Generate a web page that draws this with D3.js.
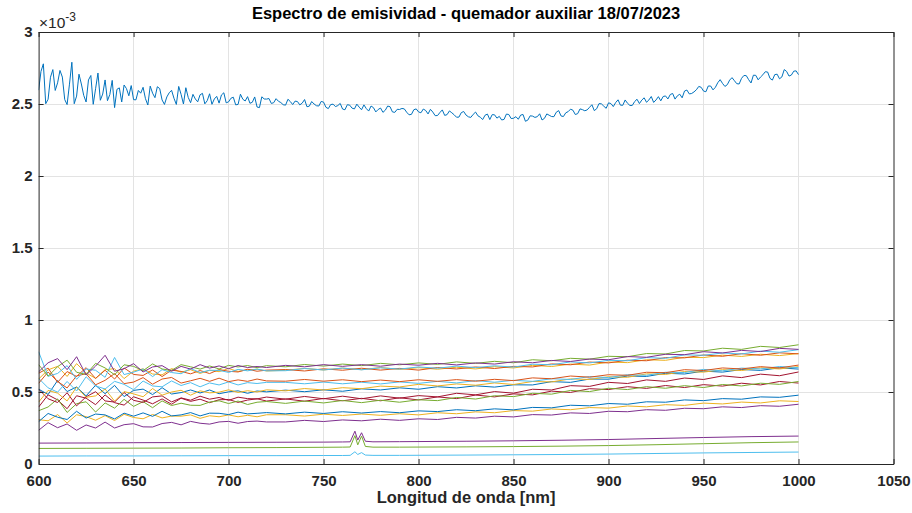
<!DOCTYPE html>
<html><head><meta charset="utf-8">
<script src="https://cdn.jsdelivr.net/npm/d3@7"></script>
<style>body{margin:0;background:#fff}svg{display:block}text{font-family:"Liberation Sans",Arial,Helvetica,sans-serif}</style>
</head><body><svg id="c" width="912" height="513"></svg>
<script>
// ---- DATA (emissivity values in units of 1e-6, i.e. 1000 = 1 x 10^-3) ----
const titleText = "Espectro de emisividad - quemador auxiliar 18/07/2023";
const xLabelText = "Longitud de onda [nm]";
const xTicks = [600,650,700,750,800,850,900,950,1000,1050];
const xTickLabels = ["600","650","700","750","800","850","900","950","1000","1050"];
const yTicks = [0,500,1000,1500,2000,2500,3000];
const yTickLabels = ["0","0.5","1","1.5","2","2.5","3"];

// wavelength grids (nm)
const wlMain = d3.range(600, 1000.01, 1.25);
const wlLower = [600,605,610,615,620,625,630,635,640,645,650,655,660,665,670,675,680,685,690,695,700,705,710,715,720,
  730,740,750,760,770,780,790,800,810,820,830,840,850,860,870,880,890,900,910,920,930,940,950,960,970,980,990,1000];
const wlSmooth = [600,625,650,675,700,725,750,760,764,766.5,768,770,772,776,790,825,850,875,900,925,950,975,1000];

// main (top) spectrum on wlMain
const mainSeries = [
  2596,2726,2779,2502,2533,2686,2739,2594,2647,2733,2687,2531,2496,2638,2790,2502,2555,2707,2639,2560,
  2514,2667,2698,2498,2606,2715,2526,2569,2667,2523,2566,2664,2475,2602,2612,2514,2632,2607,2557,2628,
  2530,2529,2594,2575,2616,2537,2493,2624,2575,2544,2620,2607,2528,2497,2549,2578,2595,2540,2497,2622,
  2567,2500,2613,2546,2509,2567,2535,2515,2564,2574,2501,2523,2571,2498,2535,2553,2506,2563,2578,2508,
  2515,2540,2547,2494,2497,2568,2533,2521,2551,2505,2512,2549,2479,2475,2550,2535,2534,2538,2504,2509,
  2537,2519,2510,2495,2492,2533,2517,2496,2520,2517,2494,2506,2531,2481,2485,2517,2500,2488,2486,2518,
  2513,2477,2468,2496,2499,2482,2489,2504,2465,2460,2495,2492,2471,2466,2499,2478,2460,2494,2468,2451,
  2486,2475,2445,2462,2472,2442,2457,2486,2481,2445,2442,2463,2462,2469,2466,2443,2425,2428,2460,2466,
  2445,2439,2465,2455,2431,2463,2444,2419,2420,2441,2459,2421,2426,2452,2439,2425,2408,2409,2440,2448,
  2423,2411,2407,2428,2444,2418,2408,2392,2422,2430,2392,2426,2425,2402,2414,2389,2393,2430,2427,2399,
  2401,2412,2394,2423,2427,2380,2388,2418,2416,2407,2412,2432,2389,2400,2431,2422,2413,2412,2443,2454,
  2417,2413,2439,2447,2464,2457,2427,2433,2466,2461,2453,2459,2477,2495,2454,2467,2503,2501,2485,2470,
  2508,2503,2482,2510,2529,2492,2491,2528,2505,2490,2490,2517,2533,2503,2527,2543,2512,2528,2552,2511,
  2528,2551,2522,2552,2556,2535,2566,2573,2534,2557,2568,2543,2590,2597,2570,2573,2584,2599,2622,2616,
  2590,2585,2625,2625,2598,2616,2648,2669,2643,2622,2634,2666,2683,2662,2641,2639,2678,2698,2697,2669,
  2646,2700,2699,2668,2687,2703,2724,2722,2678,2666,2704,2707,2675,2688,2739,2726,2694,2701,2728,2730,
  2704];

// lower spectra on wlLower
const sGreenTop = [690,610,676,721,637,622,699,667,620,689,678,648,695,660,650,690,675,659,681,660,685,674,684,669,683,
  675,691,680,694,683,699,689,702,692,709,699,713,703,724,717,734,728,748,745,767,764,788,785,804,796,817,809,828];
const sPurpleTop = [640,703,732,655,745,618,680,755,644,662,697,639,674,683,644,678,659,690,666,681,662,684,670,677,670,
  685,675,690,678,690,679,694,686,699,688,702,694,710,703,719,712,729,724,746,741,762,759,780,771,789,781,803,796];
const sCyanTop = [780,609,629,683,588,660,651,602,740,621,638,660,607,655,635,627,663,635,651,650,636,657,647,659,647,
  648,663,653,666,654,668,659,674,665,680,669,682,673,693,689,709,702,720,717,739,734,758,755,771,764,784,776,794];
const sOrangeTop = [630,666,567,642,608,669,594,651,590,667,622,615,653,607,652,643,626,649,628,656,644,639,658,644,652,
  656,646,661,651,665,652,664,652,670,660,674,663,678,674,695,689,708,702,721,717,739,737,757,748,766,755,772,765];
const sYellowTop = [590,654,678,608,697,632,595,655,662,593,645,661,625,619,663,637,655,629,651,641,663,643,654,658,646,
  651,664,653,666,655,670,657,669,658,672,660,676,667,685,677,694,687,708,704,724,720,741,739,756,747,762,753,767];
const sOrangeMid = [560,639,573,528,612,627,550,581,628,558,569,600,554,590,601,562,578,595,574,596,572,584,574,590,577,
  575,587,575,585,572,583,572,585,574,586,575,588,579,598,592,611,603,620,616,637,634,655,649,667,660,676,667,687];
const sCyanMid = [595,529,499,573,507,606,542,521,574,553,516,576,542,536,577,545,565,536,563,549,570,549,565,559,567,
  567,557,569,557,568,556,570,560,574,563,579,568,581,574,592,587,607,600,620,616,637,635,657,647,666,660,677,669];
const sYellowMid = [430,511,492,438,534,463,473,521,436,503,487,467,524,478,500,512,478,508,494,499,515,497,509,500,515,
  508,524,514,530,523,541,535,553,542,556,547,563,552,573,570,591,587,606,602,626,622,642,638,655,649,668,660,676];
const sBlueMid = [520,483,580,503,535,473,547,488,546,468,511,520,482,530,486,496,514,493,514,488,501,508,491,507,501,
  513,502,515,505,522,514,529,519,537,528,543,534,550,549,572,567,590,589,611,608,630,625,645,638,656,650,668,659];
const sRedA = [520,453,427,495,404,467,502,438,430,496,442,428,466,473,431,459,443,471,450,462,442,464,454,452,465,
  450,469,453,471,453,473,457,475,466,491,480,503,492,519,514,544,539,567,559,584,574,597,587,612,600,624,613,639];
const sRedB = [395,480,445,384,474,457,412,480,426,409,467,444,418,452,415,457,435,450,426,446,448,428,444,453,437,
  452,436,455,439,456,439,460,445,466,454,479,466,487,480,506,497,523,517,537,525,545,531,551,541,561,549,573,562];
const sGreenMid = [370,396,452,358,419,432,361,424,388,449,400,433,391,438,406,422,408,407,430,439,420,437,413,429,434,
  421,437,424,441,426,443,429,446,440,462,451,474,468,491,485,511,503,526,517,537,526,544,531,552,542,561,553,573];
const sBlueLow = [294,351,325,309,366,319,347,341,313,353,332,355,331,366,334,341,357,334,353,352,343,360,348,352,357,
  348,360,351,363,354,364,356,369,364,377,370,383,376,393,390,408,404,420,415,432,429,445,440,454,450,466,463,478];
const sYellowLow = [308,300,343,285,342,329,304,336,302,345,323,314,344,320,333,332,341,317,335,328,341,328,338,328,342,
  342,333,346,337,347,338,349,341,356,349,362,356,371,367,382,377,392,388,403,397,412,407,423,417,430,424,439,434];
const sPurpleLow = [234,287,252,278,234,271,250,291,250,273,280,258,257,281,289,272,296,283,277,292,296,283,295,298,292,
  292,303,295,306,300,311,303,314,309,324,319,332,327,343,340,355,351,366,363,377,373,387,384,397,392,405,401,415];

// smooth bottom spectra on wlSmooth (K doublet near 766/770 nm)
const sPurpleBase = [145,146,148,149,150,151,152,153,154,228,166,217,158,154,155,158,161,165,170,177,184,190,194];
const sGreenBase  = [108,109,110,111,113,114,116,117,118,197,133,194,122,117,117,119,121,124,128,134,141,148,153];
const sCyanBase   = [55,56,56,57,58,58,59,59,60,85,66,79,62,60,60,62,64,66,69,73,77,80,83];

const C = {blue:"#0072BD", orange:"#D95319", yellow:"#EDB120", purple:"#7E2F8E", green:"#77AC30", cyan:"#4DBEEE", red:"#A2142F"};

const lowerSeries = [
  {v:sRedB, c:C.red}, {v:sGreenMid, c:C.green}, {v:sRedA, c:C.red},
  {v:sPurpleLow, c:C.purple}, {v:sYellowLow, c:C.yellow}, {v:sBlueLow, c:C.blue},
  {v:sBlueMid, c:C.blue}, {v:sYellowMid, c:C.yellow}, {v:sCyanMid, c:C.cyan}, {v:sOrangeMid, c:C.orange},
  {v:sYellowTop, c:C.yellow}, {v:sOrangeTop, c:C.orange}, {v:sCyanTop, c:C.cyan}, {v:sGreenTop, c:C.green}, {v:sPurpleTop, c:C.purple}
];
const smoothSeries = [{v:sPurpleBase, c:C.purple}, {v:sGreenBase, c:C.green}, {v:sCyanBase, c:C.cyan}];

// ---- DRAW ----
const svg = d3.select("#c");
const L = 38.6, R = 893.5, T = 32, B = 464;
const x = d3.scaleLinear().domain([600,1050]).range([L,R]);
const y = d3.scaleLinear().domain([0,3000]).range([B,T]);

svg.append("rect").attr("width",912).attr("height",513).attr("fill","#fff");

const grid = svg.append("g").attr("stroke","#e3e3e3").attr("stroke-width",1).attr("shape-rendering","crispEdges");
xTicks.slice(1,-1).forEach(t => grid.append("line").attr("x1",x(t)).attr("x2",x(t)).attr("y1",T).attr("y2",B));
yTicks.slice(1,-1).forEach(t => grid.append("line").attr("x1",L).attr("x2",R).attr("y1",y(t)).attr("y2",y(t)));

svg.append("clipPath").attr("id","pc").append("rect").attr("x",L).attr("y",T).attr("width",R-L).attr("height",B-T);
const plot = svg.append("g").attr("clip-path","url(#pc)");

const lineOn = wl => d3.line().x((d,i)=>x(wl[i])).y(d=>y(d));

smoothSeries.forEach(s => plot.append("path").attr("d", lineOn(wlSmooth)(s.v)).attr("fill","none").attr("stroke",s.c).attr("stroke-width",1));
lowerSeries.forEach(s => plot.append("path").attr("d", lineOn(wlLower)(s.v)).attr("fill","none").attr("stroke",s.c).attr("stroke-width",1).attr("stroke-linejoin","round"));
plot.append("path").attr("d", lineOn(wlMain)(mainSeries)).attr("fill","none").attr("stroke",C.blue).attr("stroke-width",1).attr("stroke-linejoin","round");

function styleAxis(g){
  g.select(".domain").attr("stroke","#262626").attr("stroke-width",1);
  g.selectAll(".tick line").attr("stroke","#262626");
  g.selectAll("text").attr("fill","#262626").attr("font-size","15px").attr("font-weight","bold")
   .attr("font-family",'"Liberation Sans",Arial,sans-serif');
}
svg.append("g").attr("transform",`translate(0,${B})`)
  .call(d3.axisBottom(x).tickValues(xTicks).tickFormat((d,i)=>xTickLabels[i]).tickSizeInner(-5).tickSizeOuter(0).tickPadding(11)).call(styleAxis);
svg.append("g").attr("transform",`translate(0,${T})`)
  .call(d3.axisTop(x).tickValues(xTicks).tickFormat("").tickSizeInner(-5).tickSizeOuter(0)).call(styleAxis);
svg.append("g").attr("transform",`translate(${L},0)`)
  .call(d3.axisLeft(y).tickValues(yTicks).tickFormat((d,i)=>yTickLabels[i]).tickSizeInner(-5).tickSizeOuter(0).tickPadding(6)).call(styleAxis);
svg.append("g").attr("transform",`translate(${R},0)`)
  .call(d3.axisRight(y).tickValues(yTicks).tickFormat("").tickSizeInner(-5).tickSizeOuter(0)).call(styleAxis);

// exponent label
const ex = svg.append("text").attr("x",39).attr("y",28).attr("fill","#262626").attr("font-size","15.5px");
ex.append("tspan").text("\u00D710");
ex.append("tspan").attr("dy",-7).attr("font-size","12px").text("-3");

svg.append("text").attr("x",(L+R)/2).attr("y",19).attr("text-anchor","middle").attr("font-weight","bold")
  .attr("font-size","16.5px").attr("fill","#000").text(titleText);
svg.append("text").attr("x",(L+R)/2).attr("y",503).attr("text-anchor","middle").attr("font-weight","bold")
  .attr("font-size","16.5px").attr("fill","#262626").text(xLabelText);
</script></body></html>
